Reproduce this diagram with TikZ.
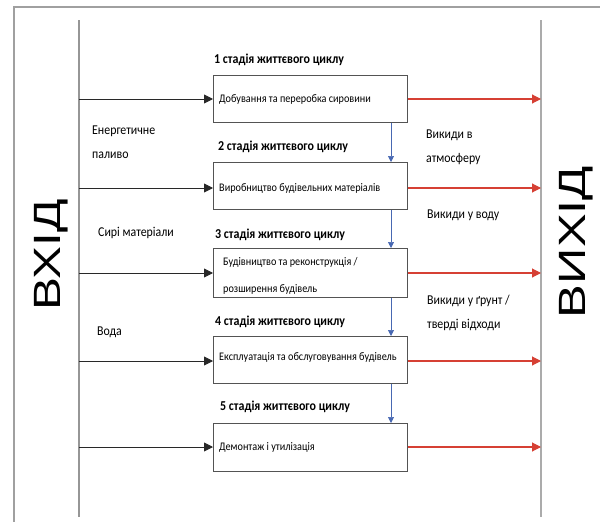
\documentclass[tikz,border=0pt]{standalone}
\usepackage{fontspec}
\setmainfont{Carlito}[FakeStretch=0.88]
\newfontfamily\bigsans{Liberation Sans}
\usetikzlibrary{arrows.meta}
\definecolor{framegray}{RGB}{150,150,150}
\definecolor{flowred}{RGB}{214,64,52}
\definecolor{flowblue}{RGB}{72,104,178}
\definecolor{inkdark}{RGB}{40,40,40}
\tikzset{
  stagebox/.style={draw=inkdark!80, line width=0.8pt, minimum width=194pt, anchor=north west, inner sep=0pt},
  stagetitle/.style={font=\fontsize{13.6}{15}\selectfont\bfseries, anchor=west, inner sep=0pt},
  boxtext/.style={font=\fontsize{11.6}{13}\selectfont, anchor=west, inner sep=0pt, align=left},
  sidetext/.style={font=\fontsize{13.5}{24}\selectfont, anchor=west, inner sep=0pt, align=left},
  sidecaption/.style={font=\bigsans\fontsize{38}{40}\selectfont, rotate=90, inner sep=0pt},
  inarrow/.style={draw=inkdark, line width=0.9pt, -{Triangle[length=9pt,width=9pt]}},
  outarrow/.style={draw=flowred, line width=1.1pt, -{Triangle[length=9pt,width=9pt]}},
  downarrow/.style={draw=flowblue, line width=0.7pt, -{Triangle[length=6pt,width=6pt]}},
  rail/.style={draw=framegray, line width=1.2pt}
}
\begin{document}
\begin{tikzpicture}[x=1pt, y=-1pt]
\useasboundingbox (0,0) rectangle (600,522);
% outer frame (top and left edges)
\draw[framegray!90, line width=1.6pt] (14,522) -- (14,7) -- (600,7);
% input and output rails
\coordinate (inTop) at (79,20);
\coordinate (inBot) at (79,517);
\coordinate (outTop) at (541,20);
\coordinate (outBot) at (541,517);
\draw[rail] (inTop) -- (inBot);
\draw[rail, framegray!80] (outTop) -- (outBot);

% stage boxes
\node[stagebox, minimum height=47pt] (s1) at (213,75) {};
\node[stagebox, minimum height=47pt] (s2) at (213,162) {};
\node[stagebox, minimum height=49pt] (s3) at (213,248) {};
\node[stagebox, minimum height=47pt] (s4) at (213,336) {};
\node[stagebox, minimum height=48pt] (s5) at (213,423) {};

% box texts
\node[boxtext] (t1) at (219,99) {Добування та переробка сировини};
\node[boxtext] (t2) at (219,188) {Виробництво будівельних матеріалів};
\node[boxtext] (t3a) at (223,262) {Будівництво та реконструкція /};
\node[boxtext] (t3b) at (223,289) {розширення будівель};
\node[boxtext] (t4) at (219,357) {Експлуатація та обслуговування будівель};
\node[boxtext] (t5) at (219,447) {Демонтаж і утилізація};

% stage titles
\node[stagetitle] (h1) at (214,60) {1 стадія життєвого циклу};
\node[stagetitle] (h2) at (218,147) {2 стадія життєвого циклу};
\node[stagetitle] (h3) at (215,235) {3 стадія життєвого циклу};
\node[stagetitle] (h4) at (215,322) {4 стадія життєвого циклу};
\node[stagetitle] (h5) at (220,407) {5 стадія життєвого циклу};

% input labels
\node[sidetext] (l1) at (92,142) {Енергетичне\\паливо};
\node[sidetext] (l2) at (98,233) {Сирі матеріали};
\node[sidetext] (l3) at (97,332) {Вода};

% output labels
\node[sidetext] (r1) at (426,147) {Викиди в\\атмосферу};
\node[sidetext] (r2) at (427,215) {Викиди у воду};
\node[sidetext] (r3) at (427,313) {Викиди у ґрунт /\\тверді відходи};

% big side captions
\node[sidecaption] (vin) at (51,255) {\scalebox{1.3}[1]{ВХІД}};
\node[sidecaption] (vout) at (576,242) {\scalebox{1.33}[1]{ВИХІД}};

% flows in, out and between stages
\foreach \s/\yy in {s1/99, s2/188, s3/273, s4/361, s5/447}{
  \coordinate (a\s) at (79,\yy);
  \coordinate (b\s) at (541,\yy);
  \draw[inarrow] (a\s) -- (a\s -| \s.west);
  \draw[outarrow] (b\s -| \s.east) -- (b\s);
}
\foreach \u/\v in {s1/s2, s2/s3, s3/s4, s4/s5}{
  \draw[downarrow] (\u.south -| 391,0) -- (\v.north -| 391,0);
}
\end{tikzpicture}
\end{document}
